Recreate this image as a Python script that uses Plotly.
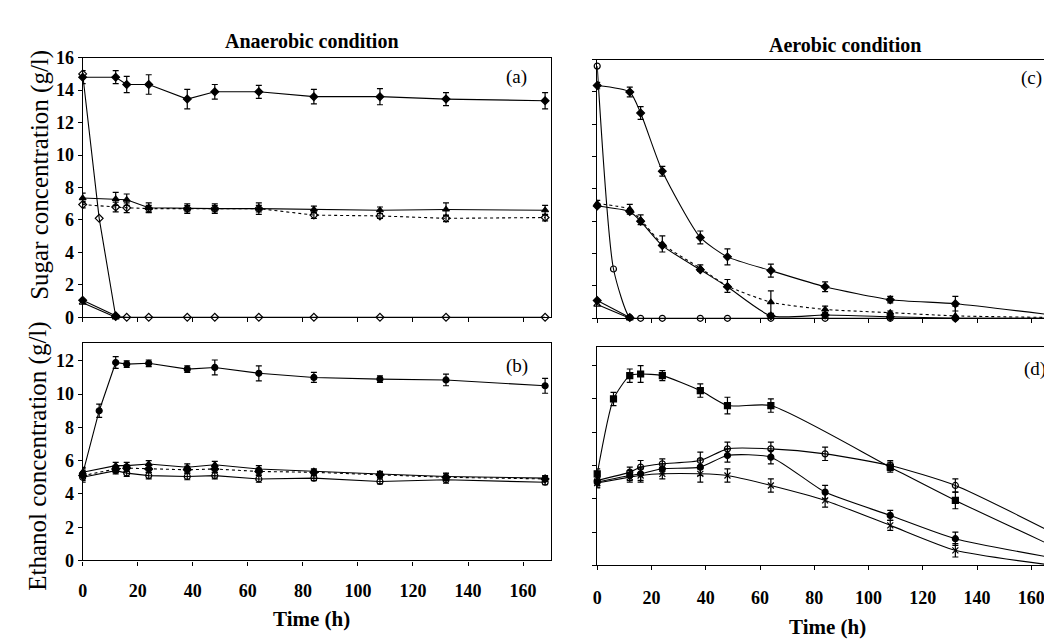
import plotly.graph_objects as go

# ---------------- data ----------------
T_FULL = [0, 6, 12, 16, 24, 38, 48, 64, 84, 108, 132, 168]
T_NO6 = [0, 12, 16, 24, 38, 48, 64, 84, 108, 132, 168]
T_NO84 = [0, 6, 12, 16, 24, 38, 48, 64, 108, 132, 168]
T_LOW = [0, 12]

# (a) anaerobic, sugar concentration (g/l)
a_s1 = [14.8, 14.8, 14.35, 14.35, 13.45, 13.9, 13.9, 13.6, 13.6, 13.45, 13.35]
a_s1_err = [0.4, 0.4, 0.5, 0.6, 0.6, 0.45, 0.4, 0.45, 0.5, 0.4, 0.5]
a_s2 = [7.35, 7.3, 7.25, 6.75, 6.7, 6.7, 6.7, 6.65, 6.6, 6.65, 6.6]
a_s2_err = [0.3, 0.4, 0.35, 0.3, 0.3, 0.3, 0.35, 0.2, 0.2, 0.4, 0.3]
a_s3 = [6.95, 6.8, 6.75, 6.7, 6.7, 6.7, 6.7, 6.3, 6.25, 6.1, 6.15]
a_s3_err = [0.2, 0.3, 0.3, 0.2, 0.2, 0.2, 0.2, 0.2, 0.15, 0.2, 0.2]
a_s4 = [15.0, 6.1, 0.05, 0.0, 0.0, 0.0, 0.0, 0.0, 0.0, 0.0, 0.0, 0.0]
a_s5 = [1.05, 0.1]
a_s6 = [0.9, 0.0]

# (b) anaerobic, ethanol concentration (g/l)
b_e1 = [5.2, 9.0, 11.9, 11.8, 11.85, 11.5, 11.6, 11.25, 11.0, 10.9, 10.85, 10.5]
b_e1_err = [0.3, 0.4, 0.35, 0.2, 0.2, 0.2, 0.45, 0.45, 0.3, 0.2, 0.35, 0.45]
b_e2 = [5.3, 5.7, 5.7, 5.8, 5.6, 5.75, 5.5, 5.35, 5.2, 5.05, 4.95]
b_e3 = [5.1, 5.5, 5.55, 5.5, 5.45, 5.5, 5.35, 5.3, 5.15, 5.0, 4.9]
b_e4 = [5.0, 5.4, 5.25, 5.1, 5.05, 5.1, 4.9, 4.95, 4.75, 4.85, 4.7]
b_lo_err = [0.3, 0.2, 0.2, 0.2, 0.2, 0.2, 0.2, 0.15, 0.15, 0.2, 0.15]

# (c) aerobic, sugar concentration (g/l)
c_s1 = [14.4, 14.0, 12.7, 9.1, 5.0, 3.8, 2.95, 1.95, 1.15, 0.9, 0.2]
c_s1_err = [0.2, 0.3, 0.4, 0.3, 0.4, 0.5, 0.4, 0.3, 0.2, 0.45, 0.3]
c_s2 = [7.1, 6.75, 6.1, 4.6, 3.1, 2.0, 1.0, 0.55, 0.35, 0.15, 0.05]
c_s2_err = [0.2, 0.3, 0.3, 0.5, 0.2, 0.4, 0.7, 0.2, 0.1, 0.6, 0.1]
c_s3 = [6.95, 6.6, 6.0, 4.5, 3.0, 1.95, 0.15, 0.2, 0.1, 0.0, 0.0]
c_s4 = [15.6, 3.05, 0.05, 0.0, 0.0, 0.0, 0.0, 0.0, 0.0, 0.0, 0.0, 0.0]
c_s5 = [1.1, 0.05]
c_s6 = [0.85, 0.0]

# (d) aerobic, ethanol concentration (g/l)
d_e1 = [5.5, 10.0, 11.4, 11.5, 11.4, 10.5, 9.6, 9.6, 5.9, 3.9, 1.15]
d_e1_err = [0.3, 0.4, 0.4, 0.5, 0.3, 0.4, 0.5, 0.4, 0.3, 0.5, 0.4]
d_e2 = [5.1, 5.6, 5.9, 6.1, 6.3, 7.0, 7.0, 6.7, 6.0, 4.8, 1.95]
d_e3 = [5.0, 5.4, 5.5, 5.8, 5.9, 6.6, 6.5, 4.4, 3.0, 1.6, 0.45]
d_e4 = [4.95, 5.3, 5.4, 5.5, 5.5, 5.4, 4.8, 3.9, 2.4, 0.9, 0.0]
d_lo_err = [0.3, 0.3, 0.4, 0.3, 0.5, 0.4, 0.4, 0.4, 0.3, 0.4, 0.4]

X_TICKS = [0, 20, 40, 60, 80, 100, 120, 140, 160]
SUGAR_TICKS = [0, 2, 4, 6, 8, 10, 12, 14, 16]
ETHANOL_TICKS = [0, 2, 4, 6, 8, 10, 12]

# ---------------- figure ----------------
W, H = 1052, 639
FONT = "Liberation Serif"


def px_x(a, b):
    return [a / W, b / W]


def px_y(top, bottom):
    return [1 - bottom / H, 1 - top / H]


fig = go.Figure()


def add(x, y, ax, sym, err=None, shape="linear", dash="solid", size=6):
    kw = {}
    if err is not None:
        kw["error_y"] = dict(type="data", array=err, visible=True,
                             color="black", thickness=1.2, width=3)
    fig.add_trace(go.Scatter(
        x=x, y=y, mode="lines+markers", xaxis="x" + ax, yaxis="y" + ax,
        line=dict(color="black", width=1.1, shape=shape, dash=dash, smoothing=0.6),
        marker=dict(symbol=sym, size=size, color="black",
                    line=dict(color="black", width=1.2)),
        cliponaxis=False, showlegend=False, **kw))


# (a)
add(T_NO6, a_s1, "", "diamond", a_s1_err)
add(T_NO6, a_s2, "", "triangle-up", a_s2_err)
add(T_NO6, a_s3, "", "diamond-open", a_s3_err, dash="dot")
add(T_FULL, a_s4, "", "diamond-open")
add(T_LOW, a_s5, "", "diamond")
add(T_LOW, a_s6, "", "triangle-up-open")
# (b)
add(T_FULL, b_e1, "2", "circle", b_e1_err)
add(T_NO6, b_e2, "2", "triangle-up", b_lo_err)
add(T_NO6, b_e3, "2", "diamond", b_lo_err, dash="dot")
add(T_NO6, b_e4, "2", "circle-open", b_lo_err)
# (c)
add(T_NO6, c_s1, "3", "diamond", c_s1_err, shape="spline")
add(T_NO6, c_s2, "3", "triangle-up", c_s2_err, shape="spline", dash="dot")
add(T_NO6, c_s3, "3", "diamond", None, shape="spline")
add(T_FULL, c_s4, "3", "circle-open", None, shape="spline")
add(T_LOW, c_s5, "3", "diamond")
add(T_LOW, c_s6, "3", "triangle-up-open")
# (d)
add(T_NO84, d_e1, "4", "square", d_e1_err, shape="spline")
add(T_NO6, d_e2, "4", "circle-open", d_lo_err, shape="spline")
add(T_NO6, d_e3, "4", "circle", d_lo_err, shape="spline")
add(T_NO6, d_e4, "4", "x-thin-open", d_lo_err, shape="spline")

axis_common = dict(showline=True, linecolor="black", linewidth=1.2, mirror=True,
                   ticks="outside", ticklen=4, tickcolor="black", tickwidth=1,
                   showgrid=False, zeroline=False,
                   tickfont=dict(family=FONT, size=18, color="black", weight="bold"))

LX = px_x(70, 541)
RX = px_x(587, 1051)
L_RANGE = [0, 170.3]
R_RANGE = [0, 170.2]
fig.update_layout(
    width=W, height=H, margin=dict(l=0, r=0, t=0, b=0),
    paper_bgcolor="white", plot_bgcolor="white",
    xaxis=dict(domain=LX, range=L_RANGE, tickvals=X_TICKS, showticklabels=False,
               anchor="y", **axis_common),
    yaxis=dict(domain=px_y(41, 309), range=[0, 16], tickvals=SUGAR_TICKS,
               anchor="x", **axis_common),
    xaxis2=dict(domain=LX, range=L_RANGE, tickvals=X_TICKS, anchor="y2",
                ticklabelstandoff=10, **axis_common),
    yaxis2=dict(domain=px_y(335, 560), range=[0, 13.1], tickvals=ETHANOL_TICKS,
                anchor="x2", **axis_common),
    xaxis3=dict(domain=RX, range=R_RANGE, tickvals=X_TICKS, showticklabels=False,
                anchor="y3", **axis_common),
    yaxis3=dict(domain=px_y(43, 310), range=[0, 16], tickvals=SUGAR_TICKS,
                showticklabels=False, anchor="x3", **axis_common),
    xaxis4=dict(domain=RX, range=R_RANGE, tickvals=X_TICKS, anchor="y4",
                ticklabelstandoff=12, **axis_common),
    yaxis4=dict(domain=px_y(340, 565), range=[0, 13.1], tickvals=ETHANOL_TICKS,
                showticklabels=False, anchor="x4", **axis_common),
)


def note(text, x, y, size, angle=0, bold=True):
    fig.add_annotation(text=text, x=x / W, y=1 - y / H, xref="paper", yref="paper",
                       showarrow=False, textangle=angle, xanchor="center", yanchor="middle",
                       font=dict(family=FONT, size=size, color="black",
                                 weight="bold" if bold else "normal"))


note("Anaerobic condition", 300, 24, 20)
note("Aerobic condition", 836, 28, 20)
note("Sugar concentration (g/l)", 27, 162, 25, angle=-90, bold=False)
note("Ethanol concentration (g/l)", 25, 452, 25, angle=-90, bold=False)
note("Time (h)", 300, 620, 21)
note("Time (h)", 818, 629, 21)
note("(a)", 506, 61, 19, bold=False)
note("(b)", 506, 359, 19, bold=False)
note("(c)", 1023, 62, 19, bold=False)
note("(d)", 1027, 362, 19, bold=False)

fig.write_html("out.html")
